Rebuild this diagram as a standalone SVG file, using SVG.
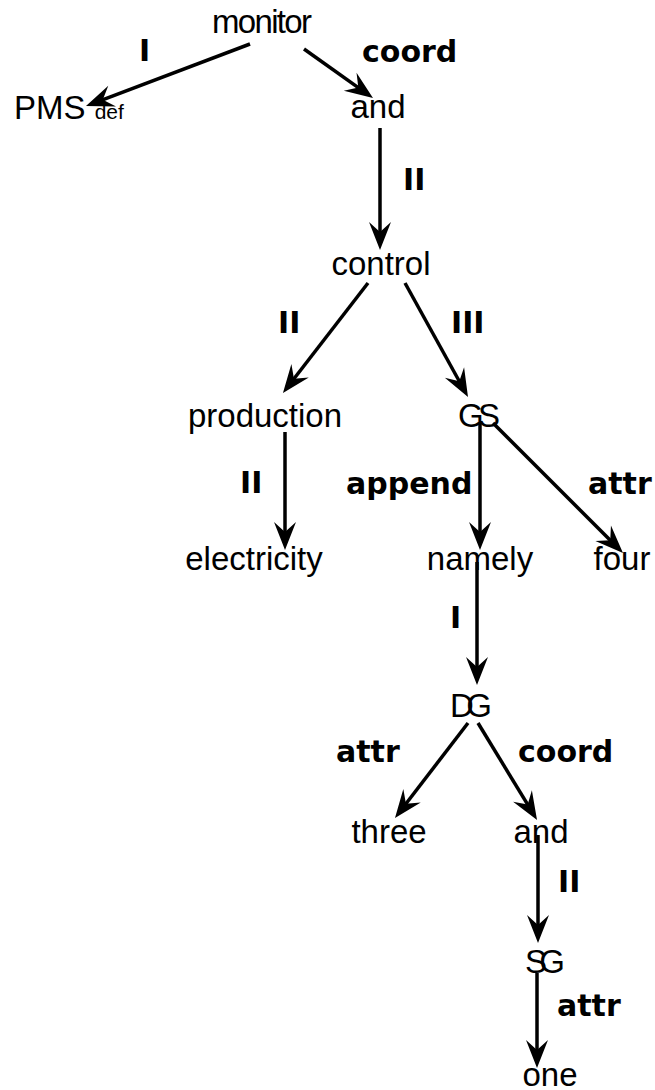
<svg xmlns="http://www.w3.org/2000/svg" width="655" height="1090" viewBox="0 0 655 1090">
<style>
.n{font-family:"Liberation Sans",Arial,sans-serif;font-size:33px;fill:#000;text-anchor:middle}
.l{font-family:"DejaVu Sans",sans-serif;font-weight:bold;font-size:30px;fill:#000}
.e line{stroke:#000;stroke-width:3.5;marker-end:url(#ah)}
</style>
<defs>
<marker id="ah" markerUnits="userSpaceOnUse" markerWidth="40" markerHeight="40" refX="0" refY="0" viewBox="-20 -20 40 40" orient="auto" overflow="visible">
<path d="M12,0 L-16,-11 L-6,0 L-16,11 Z" fill="#000"/>
</marker>
</defs>
<rect width="655" height="1090" fill="#fff"/>
<g class="e" id="connectors">
<line x1="250" y1="44" x2="97.2" y2="101.8"/>
<line x1="304" y1="49" x2="363.2" y2="91.1"/>
<line x1="380" y1="128" x2="380" y2="238"/>
<line x1="368" y1="283" x2="290.3" y2="383.5"/>
<line x1="405" y1="283" x2="462.2" y2="386.5"/>
<line x1="285" y1="432" x2="285" y2="538"/>
<line x1="480" y1="423" x2="480" y2="538"/>
<line x1="493" y1="423" x2="614.5" y2="544.5"/>
<line x1="477" y1="562" x2="477" y2="673"/>
<line x1="468" y1="723" x2="402.3" y2="808.5"/>
<line x1="478" y1="723" x2="530.8" y2="809.7"/>
<line x1="538" y1="835" x2="538" y2="931"/>
<line x1="537" y1="973" x2="537" y2="1056"/>
</g>
<g id="labels">
<text class="l" x="139" y="61">I</text>
<text class="l" x="362" y="62">coord</text>
<text class="l" x="403" y="190">II</text>
<text class="l" x="278" y="333">II</text>
<text class="l" x="451" y="333">III</text>
<text class="l" x="240" y="493">II</text>
<text class="l" x="346" y="494">append</text>
<text class="l" x="588" y="494">attr</text>
<text class="l" x="450" y="628">I</text>
<text class="l" x="336" y="762">attr</text>
<text class="l" x="518" y="762">coord</text>
<text class="l" x="558" y="892">II</text>
<text class="l" x="557" y="1016">attr</text>
</g>
<g id="monitor"><text class="n" x="262" y="33" textLength="100" lengthAdjust="spacing">monitor</text></g>
<g id="pms"><text class="n" x="14" y="119" style="text-anchor:start">PMS <tspan font-size="21">def</tspan></text></g>
<g id="and1"><text class="n" x="378" y="118">and</text></g>
<g id="control"><text class="n" x="381" y="275">control</text></g>
<g id="production"><text class="n" x="265" y="427">production</text></g>
<g id="gs"><text class="n" x="479" y="427" textLength="42" lengthAdjust="spacing">GS</text></g>
<g id="electricity"><text class="n" x="254" y="570">electricity</text></g>
<g id="namely"><text class="n" x="480" y="570">namely</text></g>
<g id="four"><text class="n" x="622" y="570">four</text></g>
<g id="dg"><text class="n" x="471" y="717" textLength="42" lengthAdjust="spacing">DG</text></g>
<g id="three"><text class="n" x="389" y="843">three</text></g>
<g id="and2"><text class="n" x="541" y="843">and</text></g>
<g id="sg"><text class="n" x="545" y="973" textLength="40" lengthAdjust="spacing">SG</text></g>
<g id="one"><text class="n" x="550" y="1086">one</text></g>
</svg>
